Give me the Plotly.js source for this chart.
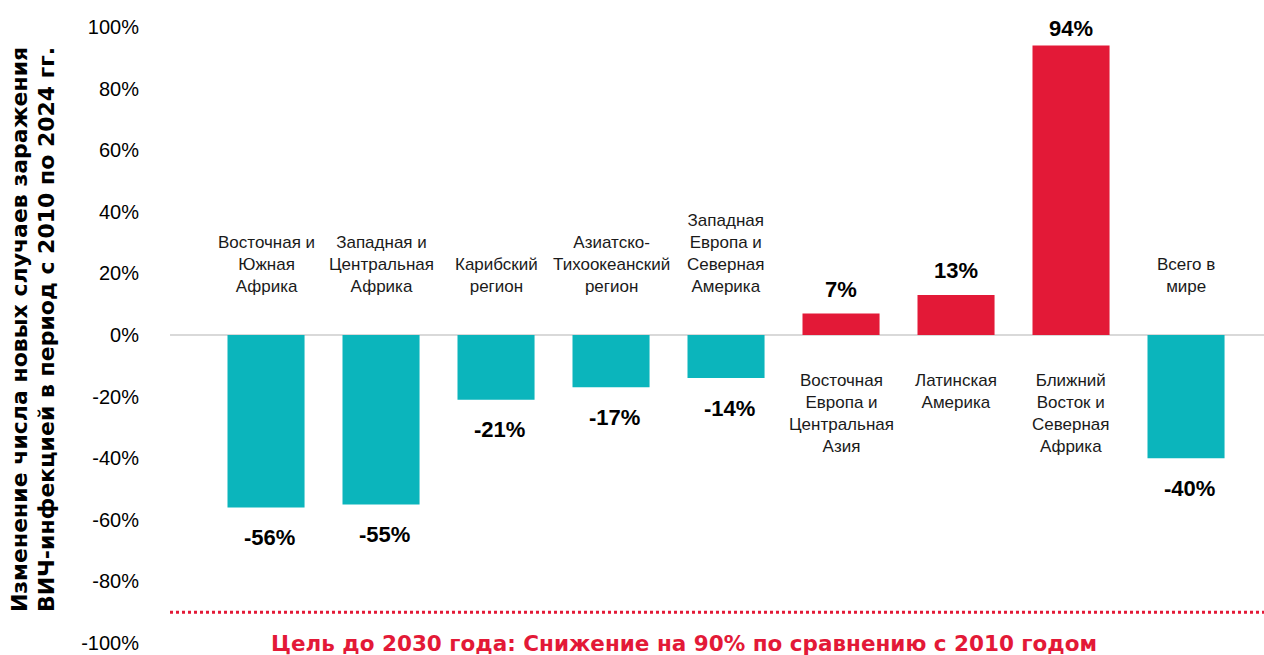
<!DOCTYPE html>
<html>
<head>
<meta charset="utf-8">
<script src="https://cdn.plot.ly/plotly-3.0.1.min.js"></script>
<style>html,body{margin:0;padding:0;background:#fff;}#chart{width:1264px;height:655px;}</style>
</head>
<body>
<div id="chart"></div>
<script>
const categories = [
  "Восточная и<br>Южная<br>Африка",
  "Западная и<br>Центральная<br>Африка",
  "Карибский<br>регион",
  "Азиатско-<br>Тихоокеанский<br>регион",
  "Западная<br>Европа и<br>Северная<br>Америка",
  "Восточная<br>Европа и<br>Центральная<br>Азия",
  "Латинская<br>Америка",
  "Ближний<br>Восток и<br>Северная<br>Африка",
  "Всего в<br>мире"
];
const values = [-56, -55, -21, -17, -14, 7, 13, 94, -40];
const yTicks = [-100, -80, -60, -40, -20, 0, 20, 40, 60, 80, 100];
const yTickLabels = yTicks.map(v => v + "%");
const targetValue = -90;
const targetText = "Цель до 2030 года: Снижение на 90% по сравнению с 2010 годом";
const yTitleLines = [
  "Изменение числа новых случаев заражения",
  "ВИЧ-инфекцией в период с 2010 по 2024 гг."
];

const TEAL = "#0BB5BC";
const RED = "#E31937";
const FONT = "Liberation Sans, Arial, sans-serif";
const HEAVY = "DejaVu Sans, Liberation Sans, sans-serif";

const trace = {
  type: "bar",
  x: categories,
  y: values,
  marker: {color: values.map(v => v < 0 ? TEAL : RED)},
  hoverinfo: "skip"
};

const annotations = [];
categories.forEach((c, i) => {
  const v = values[i];
  annotations.push({
    x: c, y: v, xref: "x", yref: "y",
    text: "<b>" + v + "%</b>", showarrow: false,
    yanchor: "middle", yshift: v < 0 ? -30 : (v > 90 ? 17 : 24), xshift: v < 0 ? 3 : 0,
    font: {family: FONT, size: 22, color: "#000"}
  });
  annotations.push({
    x: c, y: v < 0 ? 12 : -11, xref: "x", yref: "y",
    text: c, showarrow: false,
    yanchor: v < 0 ? "bottom" : "top",
    font: {family: FONT, size: 17, color: "#1a1a1a"}
  });
});
annotations.push({
  xref: "paper", yref: "y", x: 0.47, y: -100, yanchor: "middle",
  text: "<b>" + targetText + "</b>", showarrow: false,
  font: {family: HEAVY, size: 21.5, color: RED}
});
const titleX = [-0.138, -0.1133];
yTitleLines.forEach((t, i) => {
  annotations.push({
    xref: "paper", yref: "paper", x: titleX[i], y: 0.508,
    xanchor: "center", yanchor: "middle", textangle: -90,
    text: "<b>" + t + "</b>", showarrow: false,
    font: {family: HEAVY, size: 22, color: "#000"}
  });
});

const layout = {
  width: 1264, height: 655,
  margin: {l: 170, r: 0, t: 27, b: 12, pad: 0},
  paper_bgcolor: "#fff", plot_bgcolor: "#fff",
  showlegend: false,
  bargap: 0.33,
  xaxis: {
    type: "category", range: [-0.835, 8.678],
    showticklabels: false, showgrid: false, zeroline: false, showline: false, ticks: ""
  },
  yaxis: {
    range: [-100, 100], tickvals: yTicks, ticktext: yTickLabels,
    showgrid: false, zeroline: true, zerolinecolor: "#d9d9d9", zerolinewidth: 2,
    showline: false, ticks: "outside", ticklen: 26, tickcolor: "rgba(0,0,0,0)",
    tickfont: {family: FONT, size: 20, color: "#000"}
  },
  shapes: [{
    type: "line", xref: "paper", yref: "y", x0: 0, x1: 1, y0: targetValue, y1: targetValue,
    line: {color: RED, width: 3, dash: "dot"}
  }],
  annotations: annotations
};

Plotly.newPlot("chart", [trace], layout, {displayModeBar: false, staticPlot: true});
</script>
</body>
</html>
